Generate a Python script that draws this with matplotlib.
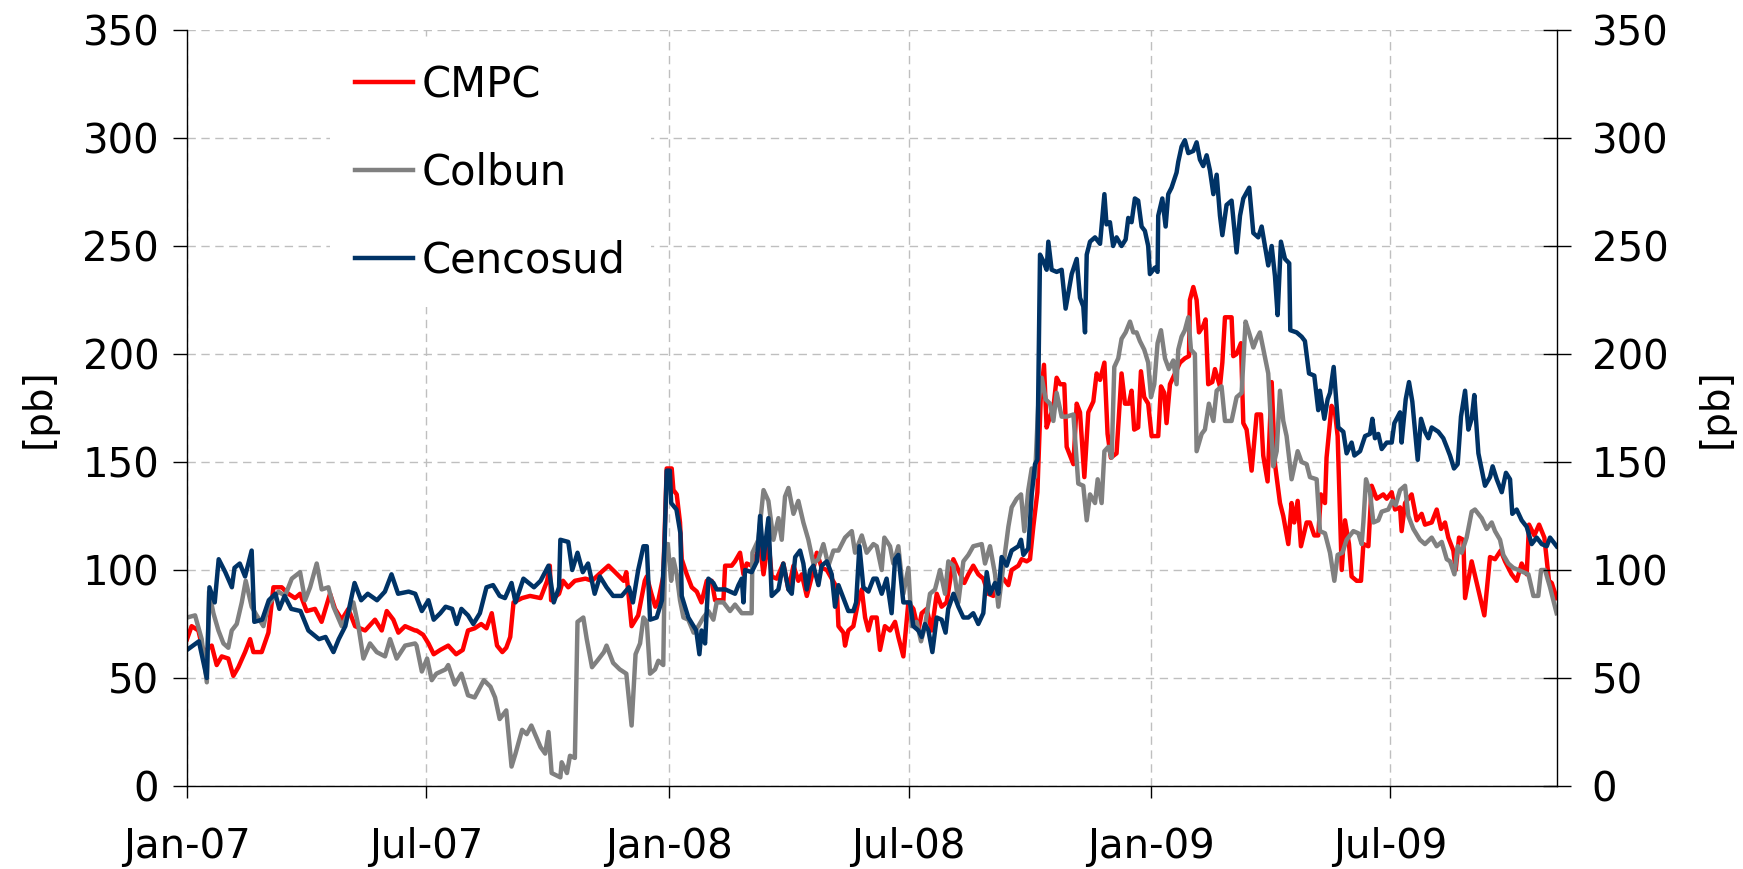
import matplotlib
matplotlib.use("Agg")
import matplotlib.pyplot as plt
import matplotlib.dates as mdates
import pandas as pd

# spreads in basis points, x = days since 2007-01-01
start = pd.Timestamp("2007-01-01")
last_day = 1038.5

cmpc_d = [0, 3.5, 8.6, 12.4, 18.7, 22.5, 26.3, 31.3, 35.1, 38.9, 44, 47.8, 50.3, 56.6, 61.7, 65.5, 71.8, 76.8, 81.9, 85.7,
          90.7, 97, 102, 108.4, 112.2, 117.3, 122.3, 127.4, 135, 142.5, 147.6, 151.4, 156.4, 160.2, 165.3, 172.9,
          174, 179, 183, 187, 192, 198, 204, 209, 213, 218, 223, 227, 231, 235, 239, 242, 245, 247.5, 254, 260,
          268, 273, 275, 276, 282, 285, 289, 294, 302, 307, 314, 319.5, 324.5, 331, 333, 337, 342, 347,
          348.5, 352, 355, 357.3, 361, 363.6, 367.4, 368.7, 371.2, 373.7, 375, 378.8, 382.6, 386.4, 390, 394, 397.7,
          400.3, 406.6, 407.9, 412.9, 415.4, 419.2, 421.8, 424.3, 428, 434.4, 437, 440.7, 443.2, 447, 452, 455.9,
          459.7, 463.4, 466, 469.8, 473.6, 477.4, 481.1, 485, 488.7, 492.5, 493.8, 497.6, 498.8, 501.3, 505.1, 509,
          511.5, 514, 516.5, 519,
          522.8, 525.3, 529, 532.9, 536.7, 539.2, 543, 546.8, 550.6, 554.4, 556.9, 560.7, 564.5, 568.3, 572, 575.8,
          580.9, 584.7, 589.2, 592.3, 596, 599.8, 603.6, 607.4, 611.2, 613.7, 618.8, 622.6, 625.1, 630.2, 632.7,
          636.5, 639, 641.5, 644.6, 647.1, 649.6, 651.6, 654.2, 656.7, 659.2, 661.8, 665, 666.8, 671.9, 674.4, 676.9,
          680.2, 683.2, 687, 689.5, 692.1, 695.4,
          697.8, 700.3, 704.6, 708.4, 711, 714, 716, 718, 721, 723.1, 725.6, 728.6, 731.2, 736.2, 738.3, 740.8,
          742.5, 745.1, 748.9, 752.7, 756.4, 759.5, 760.2, 762.8, 765.3, 767.1, 770.3, 772.1, 774.1, 777.2, 779.2,
          783, 784.8, 786.8, 791.8, 793.1, 795.6, 798.9, 800.7, 803.2, 807, 810.8, 814.1, 815.8, 819.1, 822.2,
          824.7, 828.5, 831, 834.8, 837.3, 839.3, 841.9, 844.4, 848.7, 851.2, 854.5, 857.5, 859.5, 862.6, 863.8,
          867.6,
          870.2, 872.2, 875.3, 877.8, 880.8, 882.8, 886.6, 889.9, 891.7, 895.5, 898, 901.8, 906.8, 909.4, 913.2,
          915.7, 919.5, 920.7, 923.3, 928.3, 932.1, 935.9, 938.4, 943.5, 947.3, 950.6, 953.6, 956.1, 959.9, 961.7,
          964.2, 967.5, 968.8, 973.8, 978.4, 983.4, 987.7, 991.5, 995.8, 999.1, 1004.1, 1007.9, 1011.7, 1015.5,
          1017.3, 1021.3, 1024.9, 1028.9, 1032.4, 1034.5, 1038.2]
cmpc_v = [68, 74, 72, 62, 65, 56, 60, 59, 51, 55, 62, 68, 62, 62, 71, 92, 92, 89, 87, 89,
          81, 82, 76, 89, 82, 77, 82, 74, 72, 77, 72, 81, 77, 71, 74, 72,
          72, 70, 66, 61, 63, 65, 61, 63, 72, 73, 75, 73, 80, 65, 62, 64, 69, 85, 87, 88,
          87, 95, 102, 86, 89, 95, 92, 95, 96, 95, 99, 102, 99, 95, 99, 74, 79, 95,
          97, 89, 83, 86, 97, 147, 147, 137, 135, 122, 105, 98, 92, 90, 85, 95, 95,
          86, 86, 102, 102, 104, 108, 98, 103, 102, 111, 98, 114, 97, 96, 103, 91,
          102, 95, 98, 88, 97, 108, 101, 100, 96, 92, 74, 71, 65, 72, 74, 86,
          91, 78, 72, 78,
          78, 63, 74, 72, 76, 69, 60, 85, 82, 72, 80, 82, 72, 89, 83, 85,
          105, 100, 94, 98, 102, 98, 96, 89, 88, 95, 96, 93, 100, 102, 105,
          104, 105, 120, 136, 179, 195, 166, 171, 175, 189, 186, 186, 157, 149, 177, 173,
          143, 173, 178, 191, 188, 196,
          163, 152, 154, 191, 177, 177, 183, 165, 166, 192, 180, 177, 162, 162, 185, 182,
          168, 186, 191, 196, 198, 199, 225, 231, 225, 210, 213, 216, 186, 187, 193,
          185, 196, 217, 217, 199, 200, 205, 168, 165, 146, 172, 172, 153, 141, 187,
          149, 131, 125, 112, 131, 122, 132, 111, 122, 122, 116, 116, 135, 131, 152,
          176,
          173, 162, 100, 123, 112, 97, 95, 95, 112, 111, 139, 133, 135, 133, 136,
          128, 129, 118, 131, 135, 123, 126, 121, 122, 128, 119, 122, 115, 109, 100,
          115, 114, 87, 104, 92, 79, 106, 105, 109, 104, 98, 95, 103, 98,
          121, 116, 121, 115, 95, 94, 87]

colbun_d = [0, 6.1, 11.1, 15, 16.7, 20, 23.8, 27.6, 31.3, 33.9, 37.7, 41.5, 44.5, 49, 52.8, 57.9, 61.7, 69.3, 74.3,
            79.4, 85.7, 89.5, 93.3, 98.3, 102.1, 107.2, 111, 117.3, 122.3, 126.1, 129.9, 133.7, 138.7, 143.8, 150.1,
            153.9, 158.9, 165.3, 172.9,
            174, 178, 182, 185.5, 189, 196, 198, 203, 208, 213, 218, 225, 230, 233.5, 237, 242, 246, 249, 254, 257.5,
            261, 268, 271.5, 274, 276.4, 283, 284, 288, 290.3, 294, 296, 300.4, 303, 307, 311, 316, 318, 323, 328,
            333, 337, 340, 343.4, 346,
            348.5, 351, 354.8, 357.3, 361, 362.4, 364.4, 367, 368.7, 371.2, 373.7, 376.3, 380, 384, 387.6, 391.4,
            395.2, 399, 401.5, 406.6, 411.6, 415.4, 420.5, 428, 428.6, 433.1, 437, 440.7, 444.5, 448.3, 450.8, 453.3,
            455.9, 459.7, 463.4, 467.2, 471, 474.8, 478.6, 482.4, 486.2, 490, 493.8, 498.8, 503.9, 506.4, 511.5,
            515.2, 520.3,
            522.8, 526.6, 528.6, 532.9, 535.4, 539.2, 543, 546.8, 549.3, 553.1, 556.4, 559.4, 563.2, 567, 570.8,
            574.6, 577.1, 580.9, 584.7, 588.5, 592.3, 596, 602.4, 604.9, 608.7, 612.5, 615, 618.8, 622.6, 625.1,
            628.9, 632.2, 634.7, 637.7, 640.3, 642.8, 645.3, 647.9, 650.9, 654.2, 656.7, 659.2, 663, 666.8, 671.9,
            675.6, 679.4, 682, 684.5, 688.3, 690.3, 693.3, 695.4,
            698.4, 700.9, 702.9, 705.9, 708.4, 711.5, 714.8, 717.3, 719.8, 722.3, 725.6, 728.6, 730.7, 733.2, 735.7,
            738.3, 741.3, 744.3, 747.6, 750.1, 751.4, 753.9, 756.4, 759, 761, 764, 765.3, 769.1, 771.6, 774.6, 778,
            780.5, 784.2, 786.8, 791.8, 795.6, 799.4, 802.4, 805, 808.3, 810.8, 813.3, 816.6, 819.6, 823.4, 826,
            828.5, 831, 833.5, 837.3, 841.9, 844.9, 848.7, 851.2, 856.3, 858.8, 862.6, 866.4, 869.7,
            872.2, 875.8, 879, 884.1, 887.9, 890.4, 891.7, 893.7, 896.7, 899.3, 903, 905.6, 910.6, 913.7, 916.2,
            919.5, 923.3, 925.8, 929.6, 934.6, 938.4, 943.5, 947.3, 951.1, 954.9, 957.4, 960.7, 963.2, 966.2, 970,
            973.8, 976.3, 981.4, 985.2, 989, 991.5, 995.3, 997.8, 1001.6, 1005.4, 1009.2, 1013, 1016.8, 1020.6,
            1024.3, 1026.4, 1029.4, 1033.2, 1038.2]
colbun_v = [78, 79, 68, 48, 90, 80, 72, 66, 64, 72, 75, 85, 95, 83, 79, 74, 84, 90, 88,
            96, 99, 86, 92, 103, 91, 92, 83, 74, 80, 85, 74, 59, 66, 62, 60,
            68, 59, 65, 66,
            65, 53, 59, 49, 52, 54, 56, 47, 52, 42, 41, 49, 46, 41, 31, 35, 9, 15, 26, 24,
            28, 18, 15, 25, 6, 4, 11, 6, 14, 13, 76, 78, 68, 55, 58, 62, 65, 57, 54,
            52, 28, 61, 66, 78,
            76, 52, 54, 58, 56, 112, 112, 95, 105, 98, 86, 78, 77, 71, 74, 78,
            81, 77, 85, 85, 81, 84, 80, 80, 108, 114, 137, 132, 114, 124, 114, 134,
            138, 126, 132, 122, 114, 103, 105, 112, 102, 109, 109, 115, 118, 108, 116,
            108, 112,
            111, 100, 115, 111, 103, 111, 89, 101, 74, 76, 67, 74, 89, 91, 100,
            89, 104, 102, 85, 104, 107, 111, 112, 103, 111, 98, 83, 102, 120, 129,
            133, 135, 118, 137, 147, 143, 177, 189, 179, 177, 169, 182, 171, 171, 172,
            140, 139, 123, 135, 131, 142, 131, 155,
            157, 152, 194, 198, 207, 210, 215, 210, 210, 206, 202, 196, 180, 186, 205,
            211, 198, 193, 197, 186, 202, 208, 211, 217, 202, 200, 155, 163, 165, 177, 169,
            183, 185, 169, 169, 180, 182, 215, 210, 203, 207, 210, 200, 191, 148, 155,
            183, 169, 162, 142, 155, 150, 149, 143, 142, 118, 117, 108, 95,
            107, 108, 114, 118, 117, 112, 122, 142, 136, 122, 123, 127, 128, 132, 130,
            137, 139, 125, 119, 114, 112, 115, 111, 113, 105, 104, 98, 111, 108, 115,
            127, 128, 124, 119, 122, 118, 114, 107, 103, 101, 100, 99, 98, 88,
            88, 100, 100, 92, 80]

cenco_d = [0, 9, 15, 17, 21, 24, 29, 34, 36, 40, 44, 49, 51, 57, 62, 67, 70, 74, 79, 86, 92, 100, 105, 111, 115,
           120, 127, 132, 137, 144, 150, 155, 160, 168, 173,
           178, 183, 187, 192, 196, 201, 204.4, 208, 213, 217, 222, 227, 232, 237, 241, 246, 249, 255, 263, 268,
           274, 278, 282, 283, 289, 292, 296, 300, 304, 309, 313, 318, 323, 329.5, 335, 338, 342, 346,
           348.5, 351, 356, 360, 362, 363.6, 366, 367, 371, 374, 375, 380, 384, 386, 388.4, 390, 392.7, 395.2, 399,
           401.5, 408, 415.4, 418, 420.5, 421.8, 423, 428, 432, 434.4, 437, 440.7, 443.2, 448.3, 452, 455.9, 458.4,
           461, 464.7, 467.2, 469.8, 472.3, 474.8, 478.6, 481.1, 485, 488.7, 491.2, 493.8, 498.8, 501.3, 505.1,
           507.2, 509.7, 512.7, 516.5, 520.3,
           522.8, 526.6, 530.3, 534.1, 536.7, 539.2, 543, 548, 550.6, 554.4, 556.9, 559.4, 562, 565, 568.3, 572,
           575, 577, 581, 584.7, 588.5, 592.3, 596, 599.8, 603.6, 606.2, 608.7, 612.5, 615, 617.5, 621.3, 625.1,
           630.2, 632.2, 634, 637.7, 640.3, 642.8, 644.6, 646.6, 649.1, 651.6, 652.9, 655.4, 659.2, 663, 666,
           670.6, 674.4, 676.9, 679.4, 680.7, 682, 684.5, 688.3, 692.1, 695.4,
           697, 699.6, 702, 704.6, 708.4, 711.5, 713.5, 716, 718.5, 721, 723.6, 726.1, 728.6, 729.9, 733.7, 735.7,
           736.2, 739.3, 741.8, 743.8, 746.3, 750.1, 751.4, 753.9, 756.4, 759, 762.8, 765.3, 767.8, 770.3, 772.9,
           775.4, 778, 780.5, 783, 784.8, 788, 791.8, 795.6, 798.2, 800.7, 805.2, 808.3, 812, 814.6, 817.1, 819.6,
           822.2, 824.7, 826.7, 829.2, 832.3, 835.5, 836.3, 841.1, 844.9, 847.4, 850.5, 854.5, 857.5, 858.8, 862.1,
           864.6, 866.4, 869.2,
           872.7, 876.5, 879, 882.8, 884.9, 889.2, 893, 896.7, 898.5, 900.5, 903, 905.6, 909.4, 913.2, 915.2,
           919.5, 920.7, 923.8, 926.3, 928.8, 932.9, 935.4, 938.4, 941, 943.5, 948.5, 952.3, 954.9, 957.4, 960.4,
           963.2, 965.7, 968.8, 971.3, 973.8, 975.8, 978.9, 983.9, 987.7, 989.7, 992.8, 996.6, 999.8, 1002.9,
           1004.6, 1007.9, 1011.7, 1015.5, 1019.3, 1023.1, 1026.9, 1030.7, 1033.2, 1038.2]
cenco_v = [63, 67, 50, 92, 85, 105, 99, 92, 101, 103, 97, 109, 76, 77, 86, 89, 82, 88, 82, 81, 72, 68, 69, 62, 68,
           74, 94, 86, 89, 86, 90, 98, 89, 90, 89,
           81, 86, 77, 80, 83, 82, 75, 82, 79, 75, 80, 92, 93, 88, 87, 94, 85, 96, 92, 95,
           102, 85, 92, 114, 113, 100, 108, 99, 103, 89, 97, 92, 88, 88, 92, 85, 100, 111,
           111, 77, 78, 86, 112, 146, 146, 131, 128, 117, 88, 78, 74, 72, 61, 72, 66, 96, 94,
           91, 91, 89, 93, 96, 85, 100, 99, 104, 125, 105, 124, 88, 91, 103, 91, 89,
           106, 109, 103, 91, 100, 102, 93, 102, 104, 98, 83, 93, 85, 81, 81,
           85, 111, 92, 90, 96,
           96, 89, 96, 80, 105, 107, 85, 85, 74, 72, 69, 75, 72, 62, 78, 77,
           71, 82, 89, 83, 78, 78, 80, 75, 80, 99, 89, 94, 89, 106, 102, 109,
           111, 114, 107, 110, 135, 149, 151, 246, 243, 239, 252, 239, 238, 239, 221,
           237, 244, 226, 222, 210, 246, 252, 254, 251, 274,
           260, 261, 250, 254, 250, 253, 263, 261, 272, 271, 259, 257, 250, 237, 240, 238,
           264, 272, 259, 274, 277, 284, 289, 296, 299, 293, 294, 298, 290, 287, 292,
           285, 274, 283, 264, 255, 269, 271, 247, 264, 272, 277, 256, 254, 259, 250, 241,
           250, 236, 218, 252, 244, 242, 211, 210, 208, 206, 191, 190, 174, 183, 170,
           179, 182, 194,
           166, 164, 154, 159, 153, 155, 162, 163, 170, 161, 163, 156, 159, 159, 168,
           173, 159, 179, 187, 178, 151, 170, 164, 161, 166, 164, 161, 157, 153, 147,
           149, 171, 183, 165, 170, 181, 154, 139, 143, 148, 142, 136, 145, 142,
           126, 128, 123, 120, 112, 115, 112, 111, 115, 111]

names = ["CMPC", "Colbun", "Cencosud"]
colors = ["#FF0000", "#808080", "#003366"]


def to_dates(days):
    return start + pd.to_timedelta(days, unit="D")


fig = plt.figure(figsize=(17.43, 8.69), dpi=100)
ax = fig.add_axes([0.1073, 0.0955, 0.7860, 0.8700])

series = [(cmpc_d, cmpc_v), (colbun_d, colbun_v), (cenco_d, cenco_v)]
for (d, v), name, col in zip(series, names, colors):
    ax.plot(to_dates(d), v, color=col, lw=3.2, label=name, solid_joinstyle="round")

ax.set_ylim(0, 350)
ax.set_yticks(range(0, 351, 50))
ax.set_xlim(to_dates([0, last_day]))
ax.xaxis.set_major_locator(mdates.MonthLocator(bymonth=[1, 7]))
ax.xaxis.set_major_formatter(mdates.DateFormatter("%b-%y"))

ax.grid(True, color="#BFBFBF", linestyle=(0, (6, 4)), linewidth=1.0)
ax.set_axisbelow(True)

for s in ["top", "right"]:
    ax.spines[s].set_visible(False)
ax.spines["left"].set_linewidth(1.0)
ax.spines["bottom"].set_linewidth(1.0)

ax.tick_params(axis="y", direction="out", length=10, width=1, labelsize=29, pad=10)
ax.tick_params(axis="x", direction="out", length=8.6, width=1, labelsize=29, pad=21)
ax.set_ylabel("[pb]", fontsize=28, labelpad=18)

ax2 = ax.twinx()
ax2.set_ylim(0, 350)
ax2.set_yticks(range(0, 351, 50))
for s in ["top", "left", "bottom"]:
    ax2.spines[s].set_visible(False)
ax2.spines["right"].set_linewidth(1.0)
ax2.tick_params(axis="y", direction="inout", length=20, width=1, labelsize=29, pad=15)
ax2.set_ylabel("[pb]", fontsize=28, labelpad=20)

ax.legend(loc="upper left", bbox_to_anchor=(0.1044, 0.988), fontsize=30, frameon=True,
          facecolor="white", edgecolor="none", framealpha=1, fancybox=False,
          handlelength=1.38, handletextpad=0.22, labelspacing=1.1, borderpad=0.6,
          borderaxespad=0)

fig.savefig("out.png", dpi=100)
